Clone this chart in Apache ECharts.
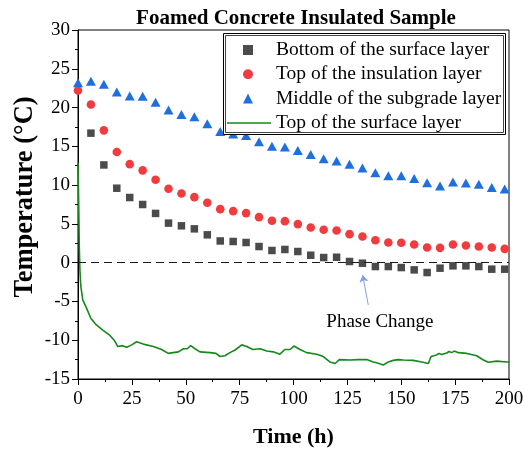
<!DOCTYPE html>
<html>
<head>
<meta charset="utf-8">
<script src="https://cdn.jsdelivr.net/npm/echarts@6/dist/echarts.min.js"></script>
<style>
html,body{margin:0;padding:0;background:#fff;}
#c{width:525px;height:450px;}
</style>
</head>
<body>
<div id="c"></div>
<script>
// ---- data ----
const titleText = 'Foamed Concrete Insulated Sample';
const xName = 'Time (h)';
const yName = 'Temperature (°C)';
const seriesNames = ['Bottom of the surface layer', 'Top of the insulation layer', 'Middle of the subgrade layer', 'Top of the surface layer'];

const sampleTimes = [0,6,12,18,24,30,36,42,48,54,60,66,72,78,84,90,96,102,108,114,120,126,132,138,144,150,156,162,168,174,180,186,192,198];
const bottomSurface = [null,16.7,12.6,9.6,8.4,7.5,6.35,5.1,4.75,4.36,3.59,2.8,2.73,2.6,2.08,1.57,1.7,1.44,0.96,0.66,0.7,0.15,-0.07,-0.5,-0.5,-0.63,-0.93,-1.27,-0.71,-0.41,-0.41,-0.5,-0.84,-0.84];
const topInsulation = [22.2,20.4,17.06,14.27,12.7,11.9,10.7,9.53,8.92,8.45,7.72,6.9,6.64,6.39,5.87,5.4,5.35,4.97,4.53,4.24,4.15,3.68,3.37,2.9,2.6,2.56,2.34,1.95,1.91,2.34,2.21,2.08,1.95,1.78];
const midSubgrade = [23.2,23.4,23.0,22.0,21.5,21.45,20.7,19.7,19.1,18.8,17.9,16.9,16.6,16.4,15.6,15.0,14.9,14.45,13.95,13.4,13.1,12.7,12.2,11.6,11.2,11.2,10.86,10.3,9.9,10.4,10.26,10.1,9.7,9.5];

const surfaceTimes = [0,0.3,0.6,0.9,1.3,2.2,3.7,6,8.4,11.5,14.5,16.8,18.4,20.7,22.6,24.9,27.2,30.3,35,38.8,41.9,44.2,46.6,48.9,50.7,52.3,54.3,56.6,61.3,64,65.9,68.2,70.5,72.9,76,78.3,81.1,84.5,87.6,90.6,93.7,96,98.4,100.2,103,106.1,110.8,113.8,116.9,119.3,121.3,126.2,130.1,134,137,138.6,141.7,144,146.3,148.6,151,155.6,159.5,162.6,163.8,166.4,167.5,168.8,169.6,171.1,172.2,173.4,174.6,176.5,180.4,185,188.1,190.4,194.3,198.9,200];
const topSurface = [12.9,8,2,-1,-3,-4.8,-5.7,-7.2,-8.0,-8.7,-9.3,-10.0,-10.8,-10.7,-10.9,-10.6,-10.2,-10.5,-10.8,-11.2,-11.7,-11.6,-11.5,-11.1,-11.1,-10.7,-11.1,-11.5,-11.6,-11.7,-12.1,-12.0,-11.6,-11.26,-10.6,-10.8,-11.2,-11.1,-11.4,-11.5,-11.8,-11.2,-11.2,-10.75,-11.2,-11.6,-11.8,-12.1,-12.8,-13.0,-12.5,-12.55,-12.5,-12.5,-12.8,-12.9,-13.2,-12.8,-12.6,-12.5,-12.55,-12.6,-12.8,-13.0,-12.1,-11.9,-11.7,-11.85,-11.6,-11.65,-11.45,-11.6,-11.4,-11.6,-11.7,-12.0,-12.55,-12.85,-12.7,-12.8,-12.8];

const xTicks = {min:0, max:200, interval:25};
const yTicks = {min:-15, max:30, interval:5};
const phaseChange = {label:'Phase Change', tail:[134.7,-5.45], head:[132.1,-1.6], text:[140.1,-7.6]};

// ---- build ----
const pairs = (xs, ys) => xs.map((x, i) => [x, ys[i]]).filter(p => p[1] !== null);
const serif = 'Liberation Serif';
const chart = echarts.init(document.getElementById('c'), null, {renderer:'canvas'});

const legendText = {fontFamily: serif, fontSize: 19.5, color: '#000', lineHeight: 19, padding: [0, 0, 0, 18]};

const option = {
  animation: false,
  backgroundColor: '#fff',
  title: {
    text: titleText, left: 291, top: 3, textAlign: 'center',
    textStyle: {fontFamily: serif, fontWeight: 'bold', fontSize: 21, color: '#000'}
  },
  grid: {left: 78, right: 16, top: 30, bottom: 71, containLabel: false, outerBoundsMode: 'none',
         show: true, borderColor: '#000', borderWidth: 1, backgroundColor: 'transparent'},
  legend: [
    {
      orient: 'vertical', left: 243, top: 40, padding: 0,
      itemWidth: 10, itemHeight: 10, itemGap: 4.3,
      textStyle: legendText, z: 20,
      data: [
        {name: seriesNames[0], icon: 'rect'},
        {name: seriesNames[1], icon: 'circle'},
        {name: seriesNames[2], icon: 'triangle'}
      ]
    },
    {
      orient: 'vertical', left: 227, top: 113, padding: 0,
      itemWidth: 44, itemHeight: 10,
      textStyle: Object.assign({}, legendText, {padding: [0, 0, 0, 0]}), z: 20,
      data: [{name: seriesNames[3], icon: 'path://M0,0 L44,0 L44,1.6 L0,1.6 Z'}]
    }
  ],
  xAxis: {
    type: 'value', min: xTicks.min, max: xTicks.max, interval: xTicks.interval,
    name: xName, nameLocation: 'middle', nameGap: 47,
    nameTextStyle: {fontFamily: serif, fontWeight: 'bold', fontSize: 22, color: '#000'},
    axisLine: {show: true, onZero: false, lineStyle: {color: '#000', width: 1}},
    axisTick: {show: true, inside: false, length: 6, lineStyle: {color: '#000'}},
    minorTick: {show: true, splitNumber: 2, length: 3, lineStyle: {color: '#000'}},
    splitLine: {show: false},
    axisLabel: {fontFamily: serif, fontSize: 19, color: '#000', margin: 11}
  },
  yAxis: {
    type: 'value', min: yTicks.min, max: yTicks.max, interval: yTicks.interval,
    axisLine: {show: true, onZero: false, lineStyle: {color: '#000', width: 1}},
    axisTick: {show: true, inside: false, length: 6, lineStyle: {color: '#000'}},
    minorTick: {show: true, splitNumber: 2, length: 3, lineStyle: {color: '#000'}},
    splitLine: {show: false},
    axisLabel: {fontFamily: serif, fontSize: 19, color: '#000', margin: 8}
  },
  series: [
    {
      name: seriesNames[3], type: 'line', data: pairs(surfaceTimes, topSurface),
      showSymbol: false, symbol: 'none', smooth: false,
      lineStyle: {color: '#15891a', width: 1.6}, itemStyle: {color: '#15891a'}, z: 1,
      markLine: {
        silent: true, symbol: ['none', 'none'], label: {show: false},
        lineStyle: {color: '#1a1a1a', type: [8, 5], width: 1.2},
        data: [{yAxis: 0}]
      }
    },
    {
      name: seriesNames[0], type: 'scatter', data: pairs(sampleTimes, bottomSurface),
      symbol: 'rect', symbolSize: 7.5, itemStyle: {color: '#4b4b4b', opacity: 1}, z: 2
    },
    {
      name: seriesNames[1], type: 'scatter', data: pairs(sampleTimes, topInsulation),
      symbol: 'circle', symbolSize: 8.6, itemStyle: {color: '#f03c3f', opacity: 1}, z: 3
    },
    {
      name: seriesNames[2], type: 'scatter', data: pairs(sampleTimes, midSubgrade),
      symbol: 'triangle', symbolSize: [10, 9], itemStyle: {color: '#1f6fe0', opacity: 1}, z: 4,
      markLine: {
        silent: true, symbol: ['none', 'arrow'], symbolSize: 7,
        label: {show: false},
        lineStyle: {color: '#7fa3dc', type: 'solid', width: 1},
        data: [[{coord: phaseChange.tail}, {coord: phaseChange.head}]]
      }
    }
  ],
  graphic: [
    {id: 'lgBox1', type: 'rect', z: 10, shape: {x: 223.5, y: 33.5, width: 282, height: 101}, style: {fill: '#fff', stroke: '#000', lineWidth: 1}},
    {id: 'lgBox2', type: 'rect', z: 10, shape: {x: 225.5, y: 35.5, width: 278, height: 97}, style: {fill: 'none', stroke: '#444', lineWidth: 1}},
    {id: 'yName', type: 'text', x: 25, y: 197, rotation: Math.PI / 2, z: 10,
     style: {text: yName, font: 'bold 26.5px "Liberation Serif"', fill: '#000', align: 'center', verticalAlign: 'middle'}}
  ]
};
chart.setOption(option);

const tp = chart.convertToPixel({gridIndex: 0}, phaseChange.text);
chart.setOption({
  graphic: [{
    id: 'phaseText', type: 'text', x: tp[0], y: tp[1], z: 10,
    style: {text: phaseChange.label, font: '19px "Liberation Serif"', fill: '#000', align: 'center', verticalAlign: 'middle'}
  }]
});
</script>
</body>
</html>
